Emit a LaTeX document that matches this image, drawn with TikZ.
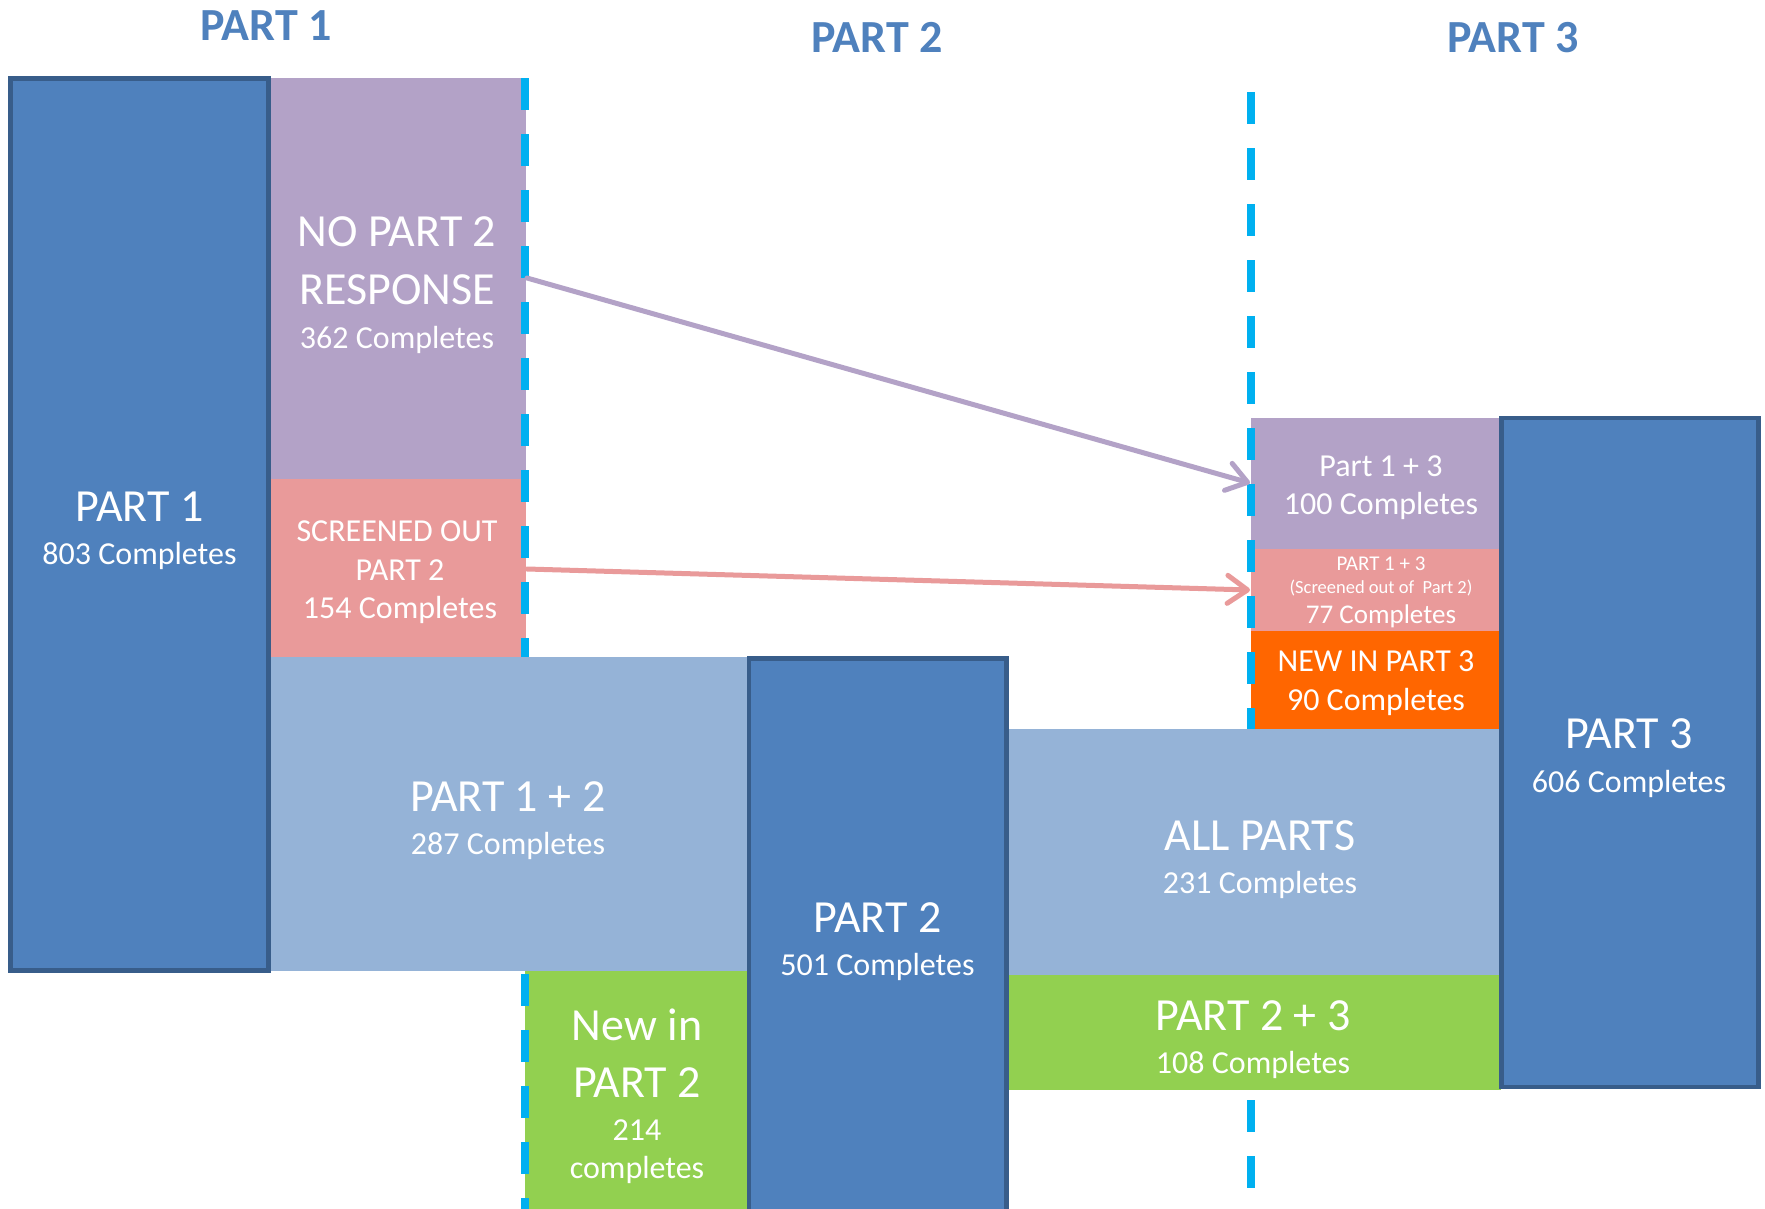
\documentclass[tikz,border=0pt]{standalone}
\usepackage{fontspec}
\setmainfont{Carlito}
\usetikzlibrary{arrows.meta}
\definecolor{pblue}{HTML}{4F81BD}
\definecolor{pbord}{HTML}{385D8A}
\definecolor{purp}{HTML}{B3A2C7}
\definecolor{pinkc}{HTML}{E99A9A}
\definecolor{lblue}{HTML}{95B3D7}
\definecolor{greenc}{HTML}{92D050}
\definecolor{orangec}{HTML}{FF6600}
\definecolor{dashc}{HTML}{00B0F0}
\begin{document}
\begin{tikzpicture}[x=1pt,y=-1pt,
  area/.style={rectangle, inner sep=0pt, outer sep=0pt, anchor=north west, draw=none},
  partbox/.style={area, fill=pblue, draw=pbord, line width=4.5pt},
  dashline/.style={draw=dashc, line width=8pt, dash pattern=on 32pt off 24pt},
  flow/.style={line width=5pt, line cap=round, -{Straight Barb[length=20pt,width=28pt,round]}},
  lbl/.style={text=white, anchor=base, inner sep=0pt, outer sep=0pt},
  bigtxt/.style={lbl, font=\fontsize{46pt}{50pt}\selectfont},
  smtxt/.style={lbl, font=\fontsize{32pt}{36pt}\selectfont},
  ttl/.style={anchor=base, inner sep=0pt, text=pblue, font=\fontsize{46pt}{50pt}\selectfont\bfseries}
]
\useasboundingbox (0,0) rectangle (1765,1208);
\fill[white] (0,0) rectangle (1765,1208);

% titles
\node[ttl] (t1) at (266,40) {PART 1};
\node[ttl] (t2) at (877,52.5) {PART 2};
\node[ttl] (t3) at (1513,52.5) {PART 3};

% areas
\node[area, fill=purp, minimum width=257pt, minimum height=401pt] (nopart) at (269,78) {};
\node[area, fill=pinkc, minimum width=257pt, minimum height=178pt] (screen) at (269,479) {};
\node[area, fill=lblue, minimum width=480pt, minimum height=313.7pt] (p12) at (269,657) {};
\node[area, fill=greenc, minimum width=224pt, minimum height=245pt] (new2) at (525,970.7) {};
\node[area, fill=lblue, minimum width=495pt, minimum height=246.5pt] (allp) at (1006,728.5) {};
\node[area, fill=greenc, minimum width=495pt, minimum height=115pt] (p23) at (1006,975) {};
\node[area, fill=purp, minimum width=250pt, minimum height=131.3pt] (p13) at (1251,417.7) {};
\node[area, fill=pinkc, minimum width=250pt, minimum height=81.7pt] (p13s) at (1251,549) {};
\node[area, fill=orangec, minimum width=250pt, minimum height=97.8pt] (new3) at (1251,630.7) {};

% part boxes
\node[partbox, minimum width=258.4pt, minimum height=892.4pt] (part1) at (10.3,78.3) {};
\node[partbox, minimum width=257.7pt, minimum height=570pt] (part2) at (748.8,658.5) {};
\node[partbox, minimum width=257pt, minimum height=669pt] (part3) at (1501.5,418) {};

% dashed separators
\coordinate (d1a) at (525,78);
\coordinate (d1b) at (525,657);
\coordinate (d2a) at (525,974);
\coordinate (d2b) at (525,1215);
\coordinate (d3a) at (1251,92);
\coordinate (d3b) at (1251,728.5);
\coordinate (d4a) at (1251,1100);
\coordinate (d4b) at (1251,1188);
\draw[dashline] (d1a) -- (d1b);
\draw[dashline] (d2a) -- (d2b);
\draw[dashline] (d3a) -- (d3b);
\draw[dashline] (d4a) -- (d4b);

% arrows
\coordinate (a1s) at (527,278);
\coordinate (a1e) at (1250,483);
\coordinate (a2s) at (527,569);
\coordinate (a2e) at (1250,590);
\draw[flow, draw=purp] (a1s) -- (a1e);
\draw[flow, draw=pinkc] (a2s) -- (a2e);

% texts
\node[bigtxt] (l1a) at (139.5,521) {PART 1};
\node[smtxt] (l1b) at (139.5,564) {803 Completes};

\node[bigtxt] (l2a) at (397,246.7) {NO PART 2};
\node[bigtxt] (l2b) at (397,304) {RESPONSE};
\node[smtxt] (l2c) at (397,348) {362 Completes};

\node[smtxt] (l3a) at (397,541.7) {SCREENED OUT};
\node[smtxt] (l3b) at (400,580) {PART 2};
\node[smtxt] (l3c) at (400,618.3) {154 Completes};

\node[bigtxt] (l4a) at (508,811.7) {PART 1 + 2};
\node[smtxt] (l4b) at (508,854.3) {287 Completes};

\node[bigtxt] (l5a) at (637,1040) {New in};
\node[bigtxt] (l5b) at (637,1097.3) {PART 2};
\node[smtxt] (l5c) at (637,1140) {214};
\node[smtxt] (l5d) at (637,1178.3) {completes};

\node[bigtxt] (l6a) at (877.5,932.3) {PART 2};
\node[smtxt] (l6b) at (877.5,975) {501 Completes};

\node[bigtxt] (l7a) at (1260,850) {ALL PARTS};
\node[smtxt] (l7b) at (1260,893) {231 Completes};

\node[bigtxt] (l8a) at (1253,1030) {PART 2 + 3};
\node[smtxt] (l8b) at (1253,1073) {108 Completes};

\node[smtxt] (l9a) at (1381,476) {Part 1 + 3};
\node[smtxt] (l9b) at (1381,514) {100 Completes};

\node[lbl, font=\fontsize{21pt}{24pt}\selectfont] (l10a) at (1381,570) {PART 1 + 3};
\node[lbl, font=\fontsize{18.5pt}{21pt}\selectfont] (l10b) at (1381,593.5) {(Screened out of~~Part 2)};
\node[lbl, font=\fontsize{27pt}{30pt}\selectfont] (l10c) at (1381,623.3) {77 Completes};

\node[smtxt] (l11a) at (1376,671.7) {NEW IN PART 3};
\node[smtxt] (l11b) at (1376,710) {90 Completes};

\node[bigtxt] (l12a) at (1629,748) {PART 3};
\node[smtxt] (l12b) at (1629,792) {606 Completes};
\end{tikzpicture}
\end{document}
